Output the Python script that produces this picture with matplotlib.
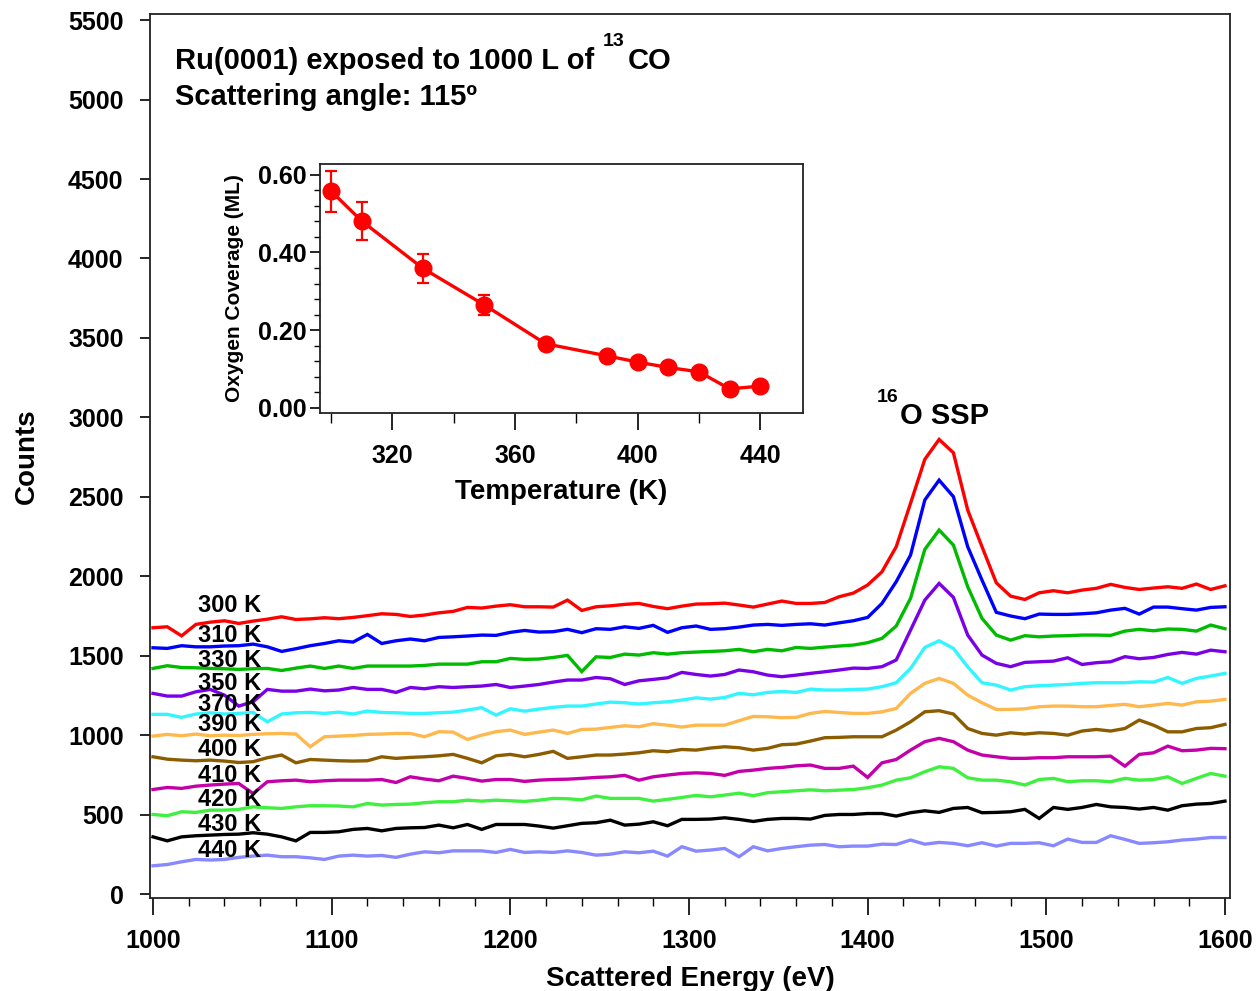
import numpy as np
import matplotlib
matplotlib.use("Agg")
import matplotlib.pyplot as plt
from matplotlib.ticker import MultipleLocator, FixedLocator

plt.rcParams['font.family'] = ['Liberation Sans', 'DejaVu Sans']
plt.rcParams['font.weight'] = 'bold'

# ---------------- data ----------------
energy = np.arange(1000, 1601, 8)  # scattered energy grid (eV)

temps = ["300 K", "310 K", "330 K", "350 K", "370 K", "390 K",
         "400 K", "410 K", "420 K", "430 K", "440 K"]
colors = ["#ff0000", "#0000ff", "#00bb00", "#7a00e6", "#33f5ff", "#ffb84d",
          "#8c5c00", "#c400a8", "#40f040", "#000000", "#8888ff"]

c300 = [1676, 1682, 1625, 1697, 1711, 1720, 1703, 1718, 1730, 1745, 1728, 1732, 1739,
        1733, 1741, 1752, 1764, 1760, 1747, 1756, 1770, 1779, 1804, 1800, 1812,
        1821, 1808, 1808, 1806, 1850, 1785, 1808, 1814, 1823, 1829, 1810, 1796, 1812,
        1825, 1827, 1831, 1819, 1806, 1825, 1844, 1829, 1829, 1835, 1871,
        1894, 1945, 2028, 2186, 2459, 2736, 2861, 2777, 2417, 2186, 1959, 1875, 1854,
        1896, 1909, 1896, 1913, 1924, 1949, 1930, 1917, 1926, 1934, 1924, 1951, 1917, 1940]
c310 = [1550, 1546, 1563, 1556, 1556, 1561, 1563, 1573, 1556, 1527, 1544, 1563, 1577,
        1594, 1586, 1634, 1577, 1594, 1605, 1594, 1615, 1619, 1624, 1630, 1628, 1647,
        1659, 1649, 1651, 1666, 1645, 1670, 1666, 1682, 1672, 1691, 1647, 1676,
        1687, 1666, 1670, 1680, 1693, 1697, 1691, 1697, 1701, 1693, 1707, 1720,
        1741, 1829, 1966, 2133, 2480, 2605, 2501, 2186, 1976, 1773, 1750, 1733, 1762,
        1760, 1760, 1764, 1770, 1787, 1798, 1762, 1806, 1806, 1796, 1787, 1804, 1808]
c330 = [1420, 1437, 1426, 1424, 1420, 1418, 1414, 1418, 1420, 1407, 1422, 1435, 1420,
        1435, 1420, 1435, 1435, 1435, 1435, 1439, 1447, 1447, 1447, 1462, 1462, 1483,
        1477, 1479, 1489, 1502, 1400, 1493, 1489, 1510, 1504, 1519, 1510, 1519,
        1523, 1527, 1531, 1540, 1525, 1540, 1531, 1552, 1546, 1554, 1561, 1567,
        1582, 1609, 1687, 1861, 2169, 2291, 2196, 1934, 1735, 1630, 1598, 1626, 1619,
        1624, 1626, 1630, 1630, 1628, 1655, 1666, 1657, 1668, 1666, 1655, 1693, 1670]
c350 = [1263, 1246, 1246, 1273, 1288, 1252, 1183, 1210, 1288, 1277, 1277, 1290, 1279,
        1284, 1300, 1288, 1288, 1269, 1300, 1292, 1305, 1300, 1305, 1309, 1319, 1300,
        1309, 1319, 1334, 1347, 1347, 1363, 1355, 1319, 1342, 1351, 1361, 1395,
        1382, 1372, 1382, 1410, 1399, 1378, 1368, 1378, 1389, 1399, 1410, 1422,
        1420, 1431, 1473, 1661, 1850, 1955, 1867, 1630, 1504, 1452, 1431, 1458, 1462,
        1466, 1487, 1445, 1456, 1462, 1494, 1481, 1489, 1508, 1521, 1510, 1535, 1525]
c370 = [1131, 1131, 1112, 1133, 1141, 1133, 1137, 1143, 1084, 1133, 1141, 1143, 1137,
        1145, 1133, 1152, 1143, 1141, 1137, 1137, 1141, 1145, 1158, 1173, 1126, 1166,
        1151, 1164, 1175, 1183, 1183, 1196, 1208, 1204, 1196, 1204, 1210, 1221,
        1235, 1227, 1237, 1263, 1254, 1269, 1275, 1269, 1290, 1284, 1284, 1288,
        1290, 1305, 1330, 1420, 1552, 1594, 1546, 1430, 1330, 1315, 1284, 1305, 1311,
        1315, 1319, 1326, 1330, 1330, 1330, 1336, 1334, 1363, 1326, 1357, 1372, 1389]
c390 = [994, 1005, 996, 1007, 996, 1000, 998, 1005, 1009, 1011, 1007, 927, 990,
        994, 998, 1005, 1007, 1011, 1011, 990, 1022, 1019, 973, 1000, 1022, 1032,
        1005, 1019, 1032, 1011, 1036, 1038, 1049, 1059, 1053, 1072, 1063, 1051,
        1063, 1063, 1063, 1091, 1118, 1116, 1110, 1112, 1137, 1149, 1143, 1137,
        1137, 1147, 1168, 1263, 1326, 1357, 1326, 1252, 1204, 1162, 1162, 1166, 1179,
        1183, 1183, 1179, 1179, 1187, 1194, 1179, 1189, 1200, 1189, 1210, 1214, 1225]
c400 = [864, 849, 843, 839, 843, 837, 828, 833, 858, 875, 826, 847, 843,
        839, 837, 839, 864, 854, 860, 864, 870, 879, 854, 826, 870, 879,
        864, 879, 898, 854, 864, 875, 875, 881, 889, 902, 896, 910,
        906, 919, 927, 921, 906, 917, 940, 944, 963, 984, 986, 990,
        990, 990, 1032, 1084, 1147, 1154, 1133, 1042, 1011, 1000, 1015, 1007, 1015,
        1011, 1000, 1026, 1036, 1026, 1042, 1095, 1063, 1021, 1021, 1042, 1047, 1068]
c410 = [658, 671, 665, 679, 686, 692, 696, 633, 707, 713, 717, 707, 713,
        717, 717, 717, 721, 702, 738, 724, 713, 742, 728, 711, 721, 721,
        709, 717, 721, 723, 728, 734, 738, 747, 717, 738, 749, 759,
        763, 759, 747, 772, 780, 791, 797, 807, 812, 791, 791, 805,
        734, 826, 847, 906, 959, 980, 959, 906, 875, 864, 854, 854, 858,
        858, 864, 864, 864, 868, 805, 879, 889, 931, 902, 906, 917, 915]
c420 = [501, 493, 518, 514, 528, 528, 533, 549, 543, 539, 549, 556, 556,
        554, 549, 570, 560, 564, 566, 575, 581, 581, 591, 585, 591, 587,
        583, 591, 602, 600, 593, 617, 602, 602, 602, 585, 596, 608,
        621, 612, 623, 635, 619, 638, 644, 650, 656, 650, 654, 658,
        669, 686, 717, 732, 770, 801, 791, 732, 717, 717, 707, 686, 721,
        728, 707, 713, 713, 707, 728, 717, 721, 738, 696, 728, 759, 742]
c430 = [360, 335, 360, 367, 371, 375, 377, 386, 377, 360, 335, 388, 388,
        392, 407, 413, 398, 413, 417, 419, 434, 417, 438, 407, 438, 438,
        438, 428, 415, 430, 445, 449, 465, 434, 440, 455, 430, 470,
        470, 472, 480, 470, 457, 470, 476, 476, 472, 495, 501, 501,
        507, 507, 491, 512, 524, 514, 539, 545, 512, 514, 518, 533, 476,
        545, 533, 545, 564, 549, 545, 535, 545, 528, 556, 566, 570, 585]
c440 = [178, 186, 203, 218, 214, 218, 231, 239, 245, 235, 235, 228, 218,
        239, 245, 239, 243, 231, 251, 266, 260, 272, 272, 272, 262, 281,
        262, 266, 262, 272, 262, 245, 251, 266, 260, 270, 239, 298,
        270, 277, 287, 235, 298, 272, 287, 298, 308, 312, 298, 302,
        302, 314, 312, 340, 314, 325, 319, 304, 323, 302, 319, 319, 323,
        304, 346, 325, 325, 367, 344, 319, 323, 329, 340, 346, 356, 356]
spectra = [c300, c310, c330, c350, c370, c390, c400, c410, c420, c430, c440]

# curve label positions (counts) for the temperature tags
label_y = [1819, 1630, 1473, 1328, 1196, 1064, 912, 749, 598, 440, 277]

# inset data: oxygen coverage vs temperature
inset_T = [300, 310, 330, 350, 370, 390, 400, 410, 420, 430, 440]
inset_cov = [0.558, 0.481, 0.359, 0.265, 0.165, 0.134, 0.118, 0.104, 0.093, 0.049, 0.056]
inset_err = [0.053, 0.048, 0.037, 0.026, 0.0, 0.0, 0.0, 0.0, 0.0, 0.0, 0.0]

# ---------------- figure ----------------
fig = plt.figure(figsize=(12.57, 9.91), dpi=100)
ax = fig.add_axes([0.1193, 0.0938, 0.8592, 0.8920])

for y, col in zip(spectra, colors):
    ax.plot(energy, y, color=col, lw=2.4, solid_joinstyle='miter')

for lab, ly in zip(temps, label_y):
    ax.text(1025, ly, lab, fontsize=17, fontweight='bold', va='center', ha='left', color='black')

ax.set_xlim(998.3, 1602.8)
ax.set_ylim(-25, 5538)
ax.xaxis.set_major_locator(MultipleLocator(100))
ax.xaxis.set_minor_locator(MultipleLocator(20))
ax.yaxis.set_major_locator(MultipleLocator(500))
ax.tick_params(axis='x', which='major', direction='out', length=12, width=1.2, labelsize=18, pad=10)
ax.tick_params(axis='x', which='minor', direction='out', length=6, width=1.0)
ax.tick_params(axis='y', which='major', direction='out', length=7, width=1.2, labelsize=18, pad=12)
for lbl in ax.get_xticklabels() + ax.get_yticklabels():
    lbl.set_fontweight('bold')
for sp in ax.spines.values():
    sp.set_linewidth(1.3)
    sp.set_color('#222222')

ax.set_xlabel("Scattered Energy (eV)", fontsize=20, fontweight='bold', labelpad=10)
ax.set_ylabel("Counts", fontsize=20, fontweight='bold', labelpad=20)

# header annotation
t1 = ax.text(0.0231, 0.9468, "Ru(0001) exposed to 1000 L of", transform=ax.transAxes,
             fontsize=21, fontweight='bold', va='center', ha='left')
ax.text(0.0231, 0.906, "Scattering angle: 115º", transform=ax.transAxes,
        fontsize=21, fontweight='bold', va='center', ha='left')

# 16O SSP label
t2 = ax.text(1418, 3008, "O SSP", fontsize=21, fontweight='bold', va='center', ha='left')

fig.canvas.draw()
r = fig.canvas.get_renderer()
inv = ax.transAxes.inverted()
bb = t1.get_window_extent(r)
x0a, y0a = inv.transform((bb.x1 + 9, bb.y1 + 6))
t13 = ax.text(x0a, y0a, "13", transform=ax.transAxes, fontsize=14, fontweight='bold',
              va='center', ha='left')
bb13 = t13.get_window_extent(r)
xco, _ = inv.transform((bb13.x1 + 3, 0))
ax.text(xco, 0.9468, "CO", transform=ax.transAxes, fontsize=21, fontweight='bold',
        va='center', ha='left')

bb2 = t2.get_window_extent(r)
xs, ys = inv.transform((bb2.x0 - 1, bb2.y1 + 5))
ax.text(xs, ys, "16", transform=ax.transAxes, fontsize=14, fontweight='bold',
        va='center', ha='right')

# ---------------- inset ----------------
ax2 = fig.add_axes([0.2546, 0.5833, 0.3843, 0.2513])
ax2.errorbar(inset_T[:4], inset_cov[:4], yerr=inset_err[:4], fmt='none',
             ecolor='#ff0000', elinewidth=1.6, capsize=4, capthick=1.6)
ax2.plot(inset_T, inset_cov, color='#ff0000', lw=2.4, marker='o', markersize=12,
         markeredgecolor='#ff0000', markerfacecolor='#ff0000')
ax2.set_xlim(296.4, 454)
ax2.set_ylim(-0.013, 0.628)
ax2.xaxis.set_major_locator(FixedLocator([320, 360, 400, 440]))
ax2.xaxis.set_minor_locator(FixedLocator([300, 340, 380, 420]))
ax2.yaxis.set_major_locator(MultipleLocator(0.2))
ax2.yaxis.set_minor_locator(MultipleLocator(0.04))
ax2.yaxis.set_major_formatter(matplotlib.ticker.FormatStrFormatter('%.2f'))
ax2.tick_params(axis='x', which='major', direction='out', length=12, width=1.2, labelsize=18, pad=10)
ax2.tick_params(axis='x', which='minor', direction='out', length=7, width=1.0)
ax2.tick_params(axis='y', which='major', direction='out', length=7, width=1.2, labelsize=18, pad=3)
ax2.tick_params(axis='y', which='minor', direction='out', length=4, width=1.0)
for lbl in ax2.get_xticklabels() + ax2.get_yticklabels():
    lbl.set_fontweight('bold')
for sp in ax2.spines.values():
    sp.set_linewidth(1.3)
    sp.set_color('#222222')
ax2.set_xlabel("Temperature (K)", fontsize=20, fontweight='bold', labelpad=8)
ax2.set_ylabel("Oxygen Coverage (ML)", fontsize=15, fontweight='bold', labelpad=10)

fig.savefig("out.png", dpi=100)
